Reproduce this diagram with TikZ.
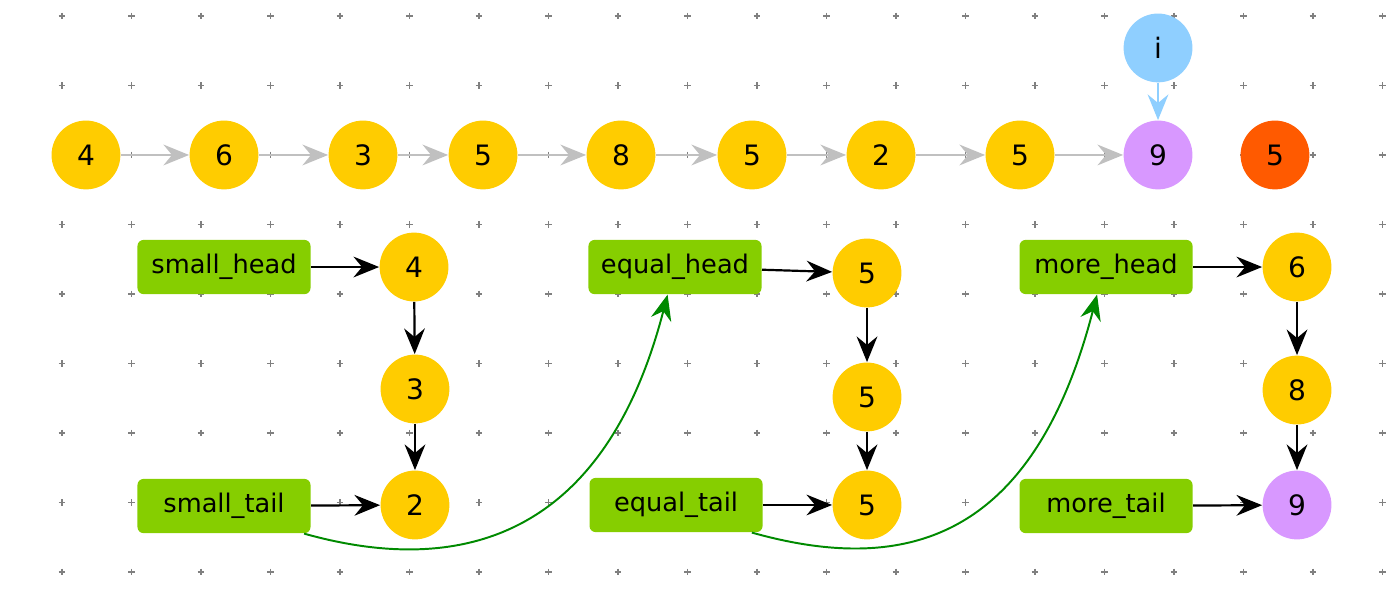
\documentclass[tikz,border=0pt]{standalone}
\usepackage{fontspec}
\setmainfont{DejaVu Sans}
\usetikzlibrary{arrows.meta}
\definecolor{nodeyellow}{HTML}{FFCC00}
\definecolor{nodepurple}{HTML}{D898FF}
\definecolor{nodeorange}{HTML}{FF5A00}
\definecolor{nodeblue}{HTML}{8FCFFF}
\definecolor{boxgreen}{HTML}{86CE00}
\definecolor{linkgrey}{HTML}{C0C0C0}
\definecolor{movegreen}{HTML}{008A00}
\begin{document}
\begin{tikzpicture}
\tikzset{
vertex/.style={circle,fill=nodeyellow,minimum size=0.99cm,inner sep=0pt,font={\fontsize{11.5pt}{13}\selectfont}},
pointer/.style={rectangle,rounded corners=2.5pt,fill=boxgreen,minimum width=2.49cm,minimum height=0.78cm,inner sep=0pt,font={\fontsize{10.5pt}{12}\selectfont}},
edge/.style={-{Stealth[length=10.5pt,width=8.5pt,inset=3.5pt]},line width=0.9pt},
gridmark/.style={gray,line width=0.6pt}
}
\useasboundingbox (0,0) rectangle (20,-8.719);

% dot grid
\foreach \x in {0,...,19}
 \foreach \y in {0,...,8}
  \draw[gridmark] (0.842+\x,-0.23-\y) -- ++(0.1,0) (0.892+\x,-0.18-\y) -- ++(0,-0.1);

% original list
\node[vertex] (A1) at (1.237,-2.23) {4};
\node[vertex] (A2) at (3.223,-2.23) {6};
\node[vertex] (A3) at (5.223,-2.23) {3};
\node[vertex] (A4) at (6.95,-2.23) {5};
\node[vertex] (A5) at (8.935,-2.23) {8};
\node[vertex] (A6) at (10.82,-2.23) {5};
\node[vertex] (A7) at (12.676,-2.23) {2};
\node[vertex] (A8) at (14.676,-2.23) {5};
\node[vertex,fill=nodepurple] (A9) at (16.662,-2.23) {9};
\node[vertex,fill=nodeorange] (P) at (18.345,-2.23) {5};
\node[vertex,fill=nodeblue] (I) at (16.662,-0.69) {i};

% pointers
\node[pointer] (SH) at (3.223,-3.842) {small\_head};
\node[pointer] (ST) at (3.223,-7.281) {small\_tail};
\node[pointer] (EH) at (9.712,-3.842) {equal\_head};
\node[pointer] (ET) at (9.727,-7.266) {equal\_tail};
\node[pointer] (MH) at (15.914,-3.842) {more\_head};
\node[pointer] (MT) at (15.914,-7.281) {more\_tail};

% split lists
\node[vertex] (S1) at (5.957,-3.842) {4};
\node[vertex] (S2) at (5.971,-5.597) {3};
\node[vertex] (S3) at (5.971,-7.266) {2};
\node[vertex] (E1) at (12.475,-3.928) {5};
\node[vertex] (E2) at (12.475,-5.712) {5};
\node[vertex] (E3) at (12.475,-7.266) {5};
\node[vertex] (M1) at (18.662,-3.842) {6};
\node[vertex] (M2) at (18.662,-5.612) {8};
\node[vertex,fill=nodepurple] (M3) at (18.662,-7.266) {9};

\path[edge,linkgrey]
 (A1) edge (A2)
 (A2) edge (A3)
 (A3) edge (A4)
 (A4) edge (A5)
 (A5) edge (A6)
 (A6) edge (A7)
 (A7) edge (A8)
 (A8) edge (A9)
;
\path[edge,nodeblue] (I) edge (A9);

\path[edge]
 (SH) edge (S1)
 (S1) edge (S2)
 (S2) edge (S3)
 (ST) edge (S3)

 (EH) edge (E1)
 (E1) edge (E2)
 (E2) edge (E3)
 (ET) edge (E3)

 (MH) edge (M1)
 (M1) edge (M2)
 (M2) edge (M3)
 (MT) edge (M3)
;

% tails moved on to the next head
\draw[edge,movegreen,line width=0.8pt]
 (ST.341) .. controls +(2.24,-0.63) and +(-0.91,-3.51) .. (EH.255);
\draw[edge,movegreen,line width=0.8pt]
 (ET.340) .. controls +(2.24,-0.63) and +(-0.91,-3.51) .. (MH.252);
\end{tikzpicture}
\end{document}
